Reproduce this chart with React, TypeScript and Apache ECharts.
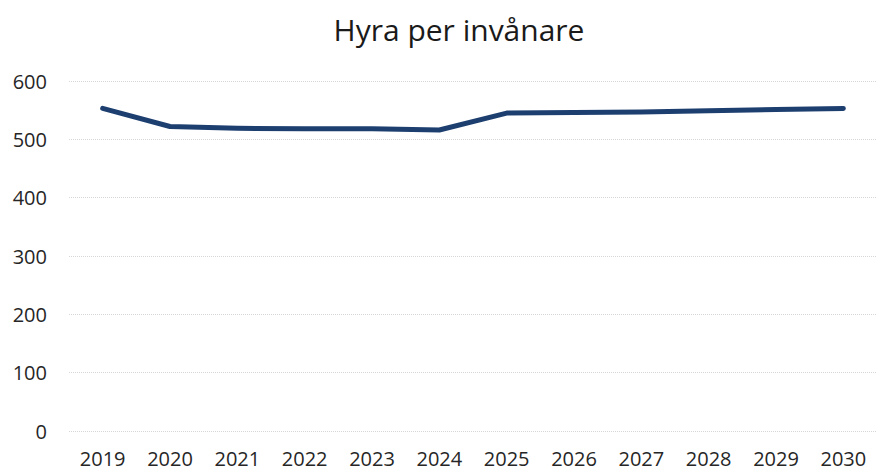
import React, { useEffect, useRef } from "react";
import * as echarts from "echarts";

const years = ["2019", "2020", "2021", "2022", "2023", "2024", "2025", "2026", "2027", "2028", "2029", "2030"];
const hyra = [553, 522, 519, 518, 518, 516, 545, 546, 547, 549, 551, 553];
const yTicks = { min: 0, max: 600, interval: 100 };
const title = "Hyra per invånare";

export default function App() {
  const ref = useRef<HTMLDivElement>(null);
  useEffect(() => {
    if (!ref.current) return;
    const chart = echarts.init(ref.current, undefined, { renderer: "svg" });
    const font = "'Open Sans', 'Noto Sans', sans-serif";
    chart.setOption({
      animation: false,
      backgroundColor: "#ffffff",
      title: {
        text: title,
        left: 454,
        textAlign: "center",
        top: 9,
        textStyle: { fontFamily: font, fontSize: 30, fontWeight: "normal", color: "#1a1a1a" },
      },
      grid: { left: 69, top: 81, width: 817, height: 350, containLabel: false },
      xAxis: {
        type: "category",
        data: years,
        boundaryGap: true,
        axisLine: { show: false },
        axisTick: { show: false },
        axisLabel: { fontFamily: font, fontSize: 20, color: "#262626", margin: 17 },
      },
      yAxis: {
        type: "value",
        min: yTicks.min,
        max: yTicks.max,
        interval: yTicks.interval,
        axisLine: { show: false },
        axisTick: { show: false },
        axisLabel: { fontFamily: font, fontSize: 20, color: "#262626", margin: 22 },
        splitLine: { lineStyle: { color: "#d6d6d6", width: 1, type: "dotted" } },
      },
      series: [
        {
          type: "line",
          data: hyra,
          symbol: "none",
          lineStyle: { color: "#1d3f70", width: 5, cap: "round", join: "round" },
        },
      ],
    });
    return () => chart.dispose();
  }, []);
  return <div ref={ref} style={{ width: 877, height: 470, position: "absolute", left: 0, top: 0 }} />;
}
